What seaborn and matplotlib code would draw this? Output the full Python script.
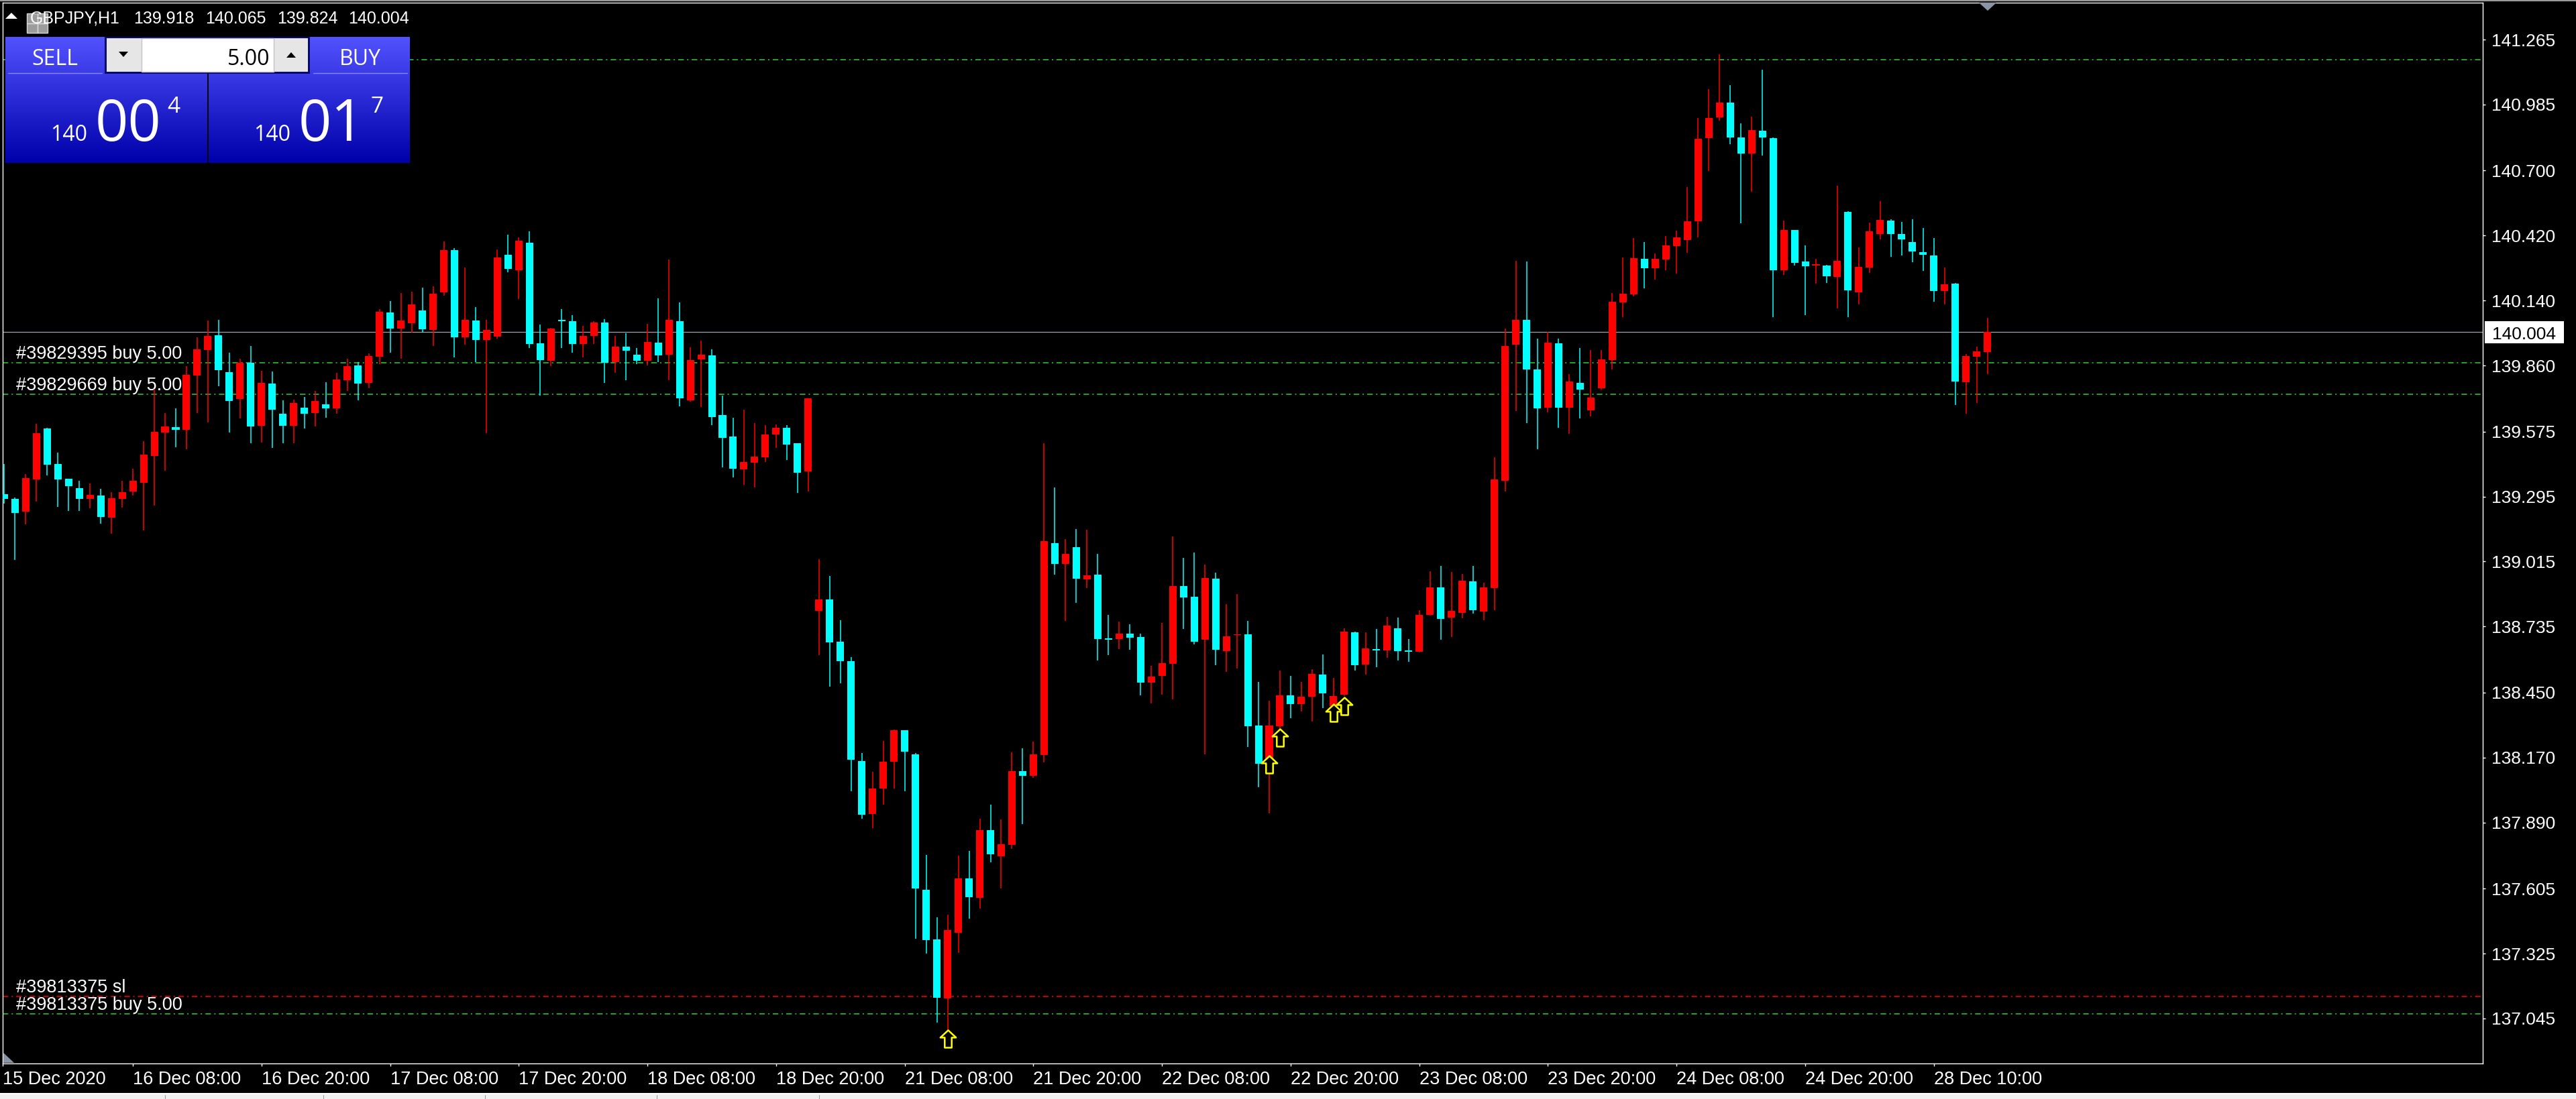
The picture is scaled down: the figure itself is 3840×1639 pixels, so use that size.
import numpy as np
import matplotlib
matplotlib.use("Agg")
import matplotlib.pyplot as plt
from matplotlib.path import Path
from matplotlib.patches import Rectangle, Polygon
import seaborn as sns

# GBPJPY H1 bars, 15 Dec 20:00 -> 28 Dec 15:00
opens = [
    139.304, 139.285, 139.230, 139.369, 139.588, 139.435, 139.371, 139.331, 139.284, 139.299,
    139.204, 139.284, 139.318, 139.354, 139.470, 139.572, 139.594, 139.583, 139.818, 139.927,
    139.990, 139.831, 139.715, 139.872, 139.601, 139.782, 139.652, 139.601, 139.678, 139.656,
    139.692, 139.675, 139.796, 139.860, 139.785, 139.898, 140.089, 140.020, 140.043, 140.098,
    140.014, 140.176, 140.358, 139.982, 140.054, 139.971, 139.985, 140.337, 140.272, 140.389,
    139.956, 139.879, 140.057, 140.051, 139.954, 139.988, 140.045, 139.875, 139.941, 139.906,
    139.879, 139.959, 139.906, 140.051, 139.710, 139.885, 139.903, 139.645, 139.553, 139.412,
    139.441, 139.465, 139.562, 139.591, 139.525, 139.403, 138.803, 138.851, 138.669, 138.586,
    138.155, 137.926, 138.035, 138.151, 138.288, 138.184, 137.600, 137.387, 137.130, 137.416,
    137.648, 137.564, 137.857, 137.744, 137.792, 138.111, 138.090, 138.182, 139.094, 139.004,
    139.077, 138.937, 138.959, 138.685, 138.682, 138.704, 138.690, 138.494, 138.521, 138.573,
    138.909, 138.863, 138.679, 138.941, 138.629, 138.698, 138.701, 138.308, 138.152, 138.306,
    138.439, 138.399, 138.432, 138.528, 138.391, 138.441, 138.710, 138.571, 138.638, 138.633,
    138.727, 138.632, 138.627, 138.785, 138.903, 138.774, 138.794, 138.930, 138.799, 138.901,
    139.362, 139.951, 140.056, 139.843, 139.677, 139.956, 139.677, 139.785, 139.667, 139.762,
    139.883, 140.132, 140.167, 140.320, 140.280, 140.316, 140.374, 140.401, 140.481, 140.839,
    140.929, 140.994, 140.842, 140.773, 140.872, 140.841, 140.270, 140.444, 140.308, 140.290,
    140.291, 140.242, 140.522, 140.175, 140.282, 140.427, 140.484, 140.426, 140.393, 140.348,
    140.334, 140.180, 140.213, 139.789, 139.898, 139.918,
]
highs = [
    139.436, 139.292, 139.392, 139.609, 139.590, 139.483, 139.373, 139.362, 139.350, 139.328,
    139.313, 139.362, 139.416, 139.533, 139.758, 139.656, 139.675, 139.856, 139.983, 140.055,
    140.057, 139.915, 139.890, 139.944, 139.837, 139.834, 139.709, 139.714, 139.724, 139.749,
    139.788, 139.827, 139.890, 139.876, 139.912, 140.103, 140.138, 140.171, 140.179, 140.195,
    140.201, 140.394, 140.365, 140.282, 140.113, 140.057, 140.360, 140.423, 140.412, 140.438,
    140.037, 140.022, 140.103, 140.076, 140.032, 140.052, 140.061, 139.988, 139.998, 139.934,
    140.039, 140.149, 140.316, 140.132, 139.939, 139.967, 139.929, 139.729, 139.636, 139.670,
    139.612, 139.602, 139.607, 139.604, 139.525, 139.718, 139.025, 138.953, 138.763, 138.603,
    138.189, 138.108, 138.241, 138.291, 138.288, 138.189, 137.751, 137.482, 137.493, 137.747,
    137.768, 137.907, 137.967, 137.903, 138.193, 138.210, 138.239, 139.525, 139.335, 139.111,
    139.156, 139.152, 139.047, 138.785, 138.756, 138.745, 138.704, 138.565, 138.751, 139.124,
    139.031, 139.054, 139.002, 138.968, 138.831, 138.875, 138.760, 138.496, 138.415, 138.545,
    138.522, 138.496, 138.550, 138.615, 138.513, 138.727, 138.713, 138.710, 138.724, 138.776,
    138.774, 138.681, 138.805, 138.974, 138.996, 138.970, 138.962, 138.996, 138.925, 139.464,
    140.019, 140.311, 140.308, 139.976, 140.006, 139.976, 139.822, 139.935, 139.926, 139.926,
    140.172, 140.326, 140.409, 140.393, 140.343, 140.418, 140.441, 140.628, 140.927, 141.052,
    141.201, 141.068, 140.904, 140.932, 141.135, 140.844, 140.484, 140.444, 140.378, 140.320,
    140.295, 140.635, 140.525, 140.369, 140.476, 140.569, 140.491, 140.479, 140.491, 140.454,
    140.409, 140.283, 140.217, 139.910, 139.941, 140.065,
]
lows = [
    139.264, 139.022, 139.175, 139.274, 139.387, 139.250, 139.232, 139.232, 139.245, 139.178,
    139.134, 139.248, 139.299, 139.150, 139.257, 139.406, 139.507, 139.499, 139.656, 139.615,
    139.771, 139.571, 139.631, 139.526, 139.529, 139.506, 139.526, 139.524, 139.587, 139.597,
    139.636, 139.651, 139.749, 139.709, 139.761, 139.866, 139.915, 139.890, 140.003, 140.003,
    139.944, 140.161, 139.895, 139.951, 139.876, 139.568, 139.976, 140.262, 140.147, 139.936,
    139.729, 139.856, 139.936, 139.915, 139.895, 139.954, 139.786, 139.827, 139.797, 139.866,
    139.861, 139.876, 139.797, 139.685, 139.705, 139.680, 139.602, 139.421, 139.377, 139.346,
    139.335, 139.445, 139.504, 139.453, 139.311, 139.318, 138.610, 138.475, 138.489, 138.026,
    137.905, 137.865, 137.966, 138.035, 138.026, 137.390, 137.325, 137.026, 136.960, 137.328,
    137.475, 137.519, 137.718, 137.605, 137.775, 137.884, 138.083, 138.148, 138.959, 138.759,
    138.837, 138.900, 138.587, 138.612, 138.638, 138.634, 138.439, 138.404, 138.441, 138.421,
    138.724, 138.657, 138.184, 138.568, 138.540, 138.555, 138.216, 138.043, 137.930, 138.290,
    138.341, 138.369, 138.324, 138.383, 138.347, 138.435, 138.545, 138.529, 138.560, 138.601,
    138.588, 138.583, 138.623, 138.782, 138.678, 138.690, 138.771, 138.792, 138.762, 138.805,
    139.316, 139.664, 139.611, 139.498, 139.657, 139.591, 139.564, 139.631, 139.641, 139.755,
    139.843, 140.068, 140.159, 140.192, 140.230, 140.270, 140.255, 140.345, 140.413, 140.698,
    140.914, 140.814, 140.472, 140.610, 140.764, 140.068, 140.250, 140.292, 140.078, 140.214,
    140.215, 140.106, 140.068, 140.124, 140.258, 140.404, 140.328, 140.333, 140.305, 140.267,
    140.134, 140.122, 139.691, 139.652, 139.697, 139.824,
]
closes = [
    139.284, 139.223, 139.374, 139.568, 139.433, 139.369, 139.340, 139.284, 139.302, 139.206,
    139.287, 139.313, 139.362, 139.475, 139.573, 139.597, 139.582, 139.820, 139.929, 139.988,
    139.839, 139.707, 139.872, 139.597, 139.785, 139.669, 139.601, 139.699, 139.653, 139.707,
    139.675, 139.800, 139.858, 139.782, 139.900, 140.092, 140.020, 140.055, 140.123, 140.017,
    140.169, 140.358, 139.982, 140.057, 139.971, 140.012, 140.326, 140.275, 140.398, 139.954,
    139.882, 140.019, 140.052, 139.954, 139.987, 140.045, 139.873, 139.941, 139.925, 139.879,
    139.961, 139.904, 140.057, 139.719, 139.884, 139.906, 139.638, 139.548, 139.415, 139.443,
    139.467, 139.562, 139.591, 139.520, 139.398, 139.718, 138.851, 138.666, 138.584, 138.160,
    137.922, 138.037, 138.153, 138.288, 138.194, 137.605, 137.382, 137.134, 137.427, 137.648,
    137.567, 137.857, 137.754, 137.796, 138.111, 138.090, 138.184, 139.103, 139.004, 139.049,
    138.940, 138.955, 138.682, 138.679, 138.704, 138.688, 138.494, 138.519, 138.577, 138.909,
    138.860, 138.668, 138.944, 138.634, 138.692, 138.700, 138.306, 138.144, 138.308, 138.439,
    138.399, 138.432, 138.530, 138.448, 138.435, 138.713, 138.568, 138.640, 138.633, 138.738,
    138.629, 138.627, 138.785, 138.903, 138.767, 138.803, 138.932, 138.804, 138.903, 139.369,
    139.945, 140.056, 139.842, 139.674, 139.958, 139.677, 139.790, 139.757, 139.721, 139.887,
    140.136, 140.169, 140.323, 140.280, 140.320, 140.378, 140.413, 140.482, 140.838, 140.927,
    140.994, 140.842, 140.773, 140.876, 140.843, 140.270, 140.444, 140.303, 140.288, 140.297,
    140.245, 140.311, 140.184, 140.285, 140.437, 140.487, 140.427, 140.404, 140.353, 140.336,
    140.180, 140.210, 139.792, 139.900, 139.921, 140.004,
]

# time axis labels (bar index where each label sits)
time_label_bars = [0, 12, 24, 36, 48, 60, 72, 84, 96, 108, 120, 132, 144, 156, 168, 180]
time_labels = ["15 Dec 2020", "16 Dec 08:00", "16 Dec 20:00", "17 Dec 08:00", "17 Dec 20:00",
               "18 Dec 08:00", "18 Dec 20:00", "21 Dec 08:00", "21 Dec 20:00", "22 Dec 08:00",
               "22 Dec 20:00", "23 Dec 08:00", "23 Dec 20:00", "24 Dec 08:00", "24 Dec 20:00",
               "28 Dec 10:00"]
price_ticks = [141.265, 140.985, 140.700, 140.420, 140.140, 139.860, 139.575, 139.295,
               139.015, 138.735, 138.450, 138.170, 137.890, 137.605, 137.325, 137.045]

# order lines
order_prices = [141.179, 139.871, 139.735, 137.140, 137.064]
order_colors = ["#32cd32", "#32cd32", "#32cd32", "#ff0000", "#32cd32"]
order_labels = ["", "#39829395 buy 5.00", "#39829669 buy 5.00", "#39813375 sl", "#39813375 buy 5.00"]

# buy arrows
arrow_bars = [88, 118, 119, 124, 125]
arrow_prices = [136.995, 138.179, 138.292, 138.399, 138.429]

symbol = "GBPJPY,H1"
last_ohlc = ["139.918", "140.065", "139.824", "140.004"]
bid = 140.004
lot = "5.00"
sell_parts = ("140", "00", "4")
buy_parts = ("140", "01", "7")

sns.set_style("dark", {"axes.facecolor": "black", "figure.facecolor": "black"})
plt.rcParams["font.family"] = ["Liberation Sans", "DejaVu Sans"]
plt.rcParams["lines.scale_dashes"] = False

W, H = 3840, 1639
fig = plt.figure(figsize=(W / 100, H / 100), dpi=100, facecolor="black")
ax = fig.add_axes([4 / W, 1 - 1586 / H, (3701 - 4) / W, (1586 - 4) / H])
ax.set_facecolor("black")
ax.grid(False)

# candles: red = up bar, aqua = down bar
x = np.arange(len(opens))
o = np.array(opens)
c = np.array(closes)
colors = np.where(c >= o, "#ff0000", "#00ffff")
body_bottom = np.minimum(o, c)
body_height = np.maximum(np.abs(c - o), 0.003)
ax.vlines(x, lows, highs, colors=colors, linewidth=1.1, zorder=4)
ax.bar(x, body_height, bottom=body_bottom, width=0.69, color=colors, linewidth=0, zorder=5)

# order lines and their labels
dashdot = (0, (6, 3.5, 1.5, 3.5))
for p, col, lab in zip(order_prices, order_colors, order_labels):
    ax.axhline(p, color=col, lw=1.1, linestyle=dashdot, zorder=1)
    if lab:
        ax.text(0.0054, p + 0.018, lab, transform=ax.get_yaxis_transform(), color="white",
                fontsize=19.5, ha="left", va="baseline", zorder=2)
ax.axhline(bid, color="#a3a3b0", lw=0.9, zorder=1)

# trade arrows
arrow = Path([(0, 0), (0.45, -0.42), (0.2, -0.42), (0.2, -1), (-0.2, -1), (-0.2, -0.42),
              (-0.45, -0.42), (0, 0)],
             [Path.MOVETO] + [Path.LINETO] * 6 + [Path.CLOSEPOLY])
sns.scatterplot(x=arrow_bars, y=arrow_prices, marker=arrow, s=1400, color="black",
                edgecolor="#ffff00", linewidth=1.8, ax=ax, zorder=6, legend=False)

ax.set_xlim(-0.144, 231.2)
ax.set_ylim(136.851, 141.424)
ax.yaxis.tick_right()
ax.set_yticks(price_ticks, [f"{v:.3f}" for v in price_ticks])
ax.tick_params(axis="y", colors="white", labelsize=19, length=3, width=1, pad=6,
               direction="out", left=False, right=True)
tick_pos = [-0.144] + time_label_bars[1:]
ax.set_xticks(tick_pos, time_labels)
ax.tick_params(axis="x", colors="white", labelsize=19.5, length=3, width=1, pad=5,
               direction="out", bottom=True)
for lbl in ax.get_xticklabels():
    lbl.set_ha("left")
ax.set_xlabel("")
ax.set_ylabel("")
for s in ax.spines.values():
    s.set_visible(True)
    s.set_color("white")
    s.set_linewidth(1.0)

# overlay in pixel coordinates for the terminal widgets
ov = fig.add_axes([0, 0, 1, 1], zorder=10)
ov.patch.set_alpha(0)
ov.axis("off")

# window borders
ov.add_patch(Rectangle((0, 0), W, 2, color="#9a9a9a", lw=0))
ov.add_patch(Rectangle((0, 1630), W, 2, color="#ffffff", lw=0))
ov.add_patch(Rectangle((0, 1632), W, 7, color="#f0f0f0", lw=0))
for sx in [246, 482, 723, 979, 1221]:
    ov.plot([sx, sx], [1633, 1639], color="#a0a0a0", lw=0.8)
ov.add_patch(Polygon([(5, 1570), (5, 1585), (21, 1585)], closed=True, color="#8a96a8", lw=0))
ov.add_patch(Polygon([(2950, 4), (2976, 4), (2963, 16)], closed=True, color="#8a96a8", lw=0))

# header line
ov.add_patch(Polygon([(8, 28), (26, 28), (17, 19)], closed=True, color="white", lw=0))
ov.text(45, 35, symbol, color="white", fontsize=18, va="baseline", ha="left")
for xs, val in zip([199, 306, 413, 519], last_ohlc):
    ov.text(xs, 35, val, color="white", fontsize=18, va="baseline", ha="left")
ov.add_patch(Rectangle((40, 20), 31, 29, facecolor="#9c9c9c", edgecolor="#d8d8d8", lw=1))
ov.plot([55.5, 55.5], [20, 49], color="#e0e0e0", lw=1)
ov.plot([40, 71], [34.5, 34.5], color="#e0e0e0", lw=1)

# one-click trading panel
t = np.linspace(0, 1, 256)[:, None]
top_c = np.array([82, 82, 255]) / 255
bot_c = np.array([0, 0, 170]) / 255
grad = (top_c * (1 - t) + bot_c * t)[:, None, :]
ov.imshow(grad, extent=(8, 611, 243, 55), aspect="auto", origin="upper", zorder=1)
ov.plot([12, 152], [109, 109], color="#8a8aff", lw=1, zorder=2)
ov.plot([467, 607], [109, 109], color="#8a8aff", lw=1, zorder=2)
ov.add_patch(Rectangle((308.5, 110), 2.5, 133, color="black", lw=0, zorder=2))
ov.add_patch(Rectangle((156, 55), 306, 55, color="#0a0a6e", lw=0, zorder=2))
ov.add_patch(Rectangle((159, 57), 300, 50, color="#e6e6e6", lw=0, zorder=3))
ov.add_patch(Rectangle((211, 57), 197, 50, facecolor="white", edgecolor="#c4c4c4", lw=1, zorder=4))
ov.add_patch(Polygon([(177, 77), (191, 77), (184, 85)], closed=True, color="black", lw=0, zorder=5))
ov.add_patch(Polygon([(427, 86), (441, 86), (434, 78)], closed=True, color="black", lw=0, zorder=5))
ov.text(402, 97, lot, color="black", fontsize=23, ha="right", va="baseline", zorder=6,
        family=["Open Sans", "DejaVu Sans"])
ov.text(82, 97, "SELL", color="white", fontsize=23, ha="center", va="baseline", zorder=6,
        family=["Open Sans", "DejaVu Sans"])
ov.text(537, 97, "BUY", color="white", fontsize=23, ha="center", va="baseline", zorder=6,
        family=["Open Sans", "DejaVu Sans"])
for (small_x, big_x, sup_x), parts in zip([(75, 142, 249), (378, 445, 553)], [sell_parts, buy_parts]):
    ov.text(small_x, 210, parts[0], color="white", fontsize=23, ha="left", va="baseline",
            zorder=6, family=["Open Sans", "DejaVu Sans"])
    ov.text(big_x, 210, parts[1], color="white", fontsize=62, ha="left", va="baseline",
            zorder=6, family=["Open Sans", "DejaVu Sans"])
    ov.text(sup_x, 168, parts[2], color="white", fontsize=24, ha="left", va="baseline",
            zorder=6, family=["Open Sans", "DejaVu Sans"])

# bid label on the price scale
ov.add_patch(Rectangle((3704, 479), 118, 33, color="white", lw=0, zorder=2))
ov.text(3715, 496, f"{bid:.3f}", color="black", fontsize=19, ha="left", va="center_baseline", zorder=3)

ov.set_xlim(0, W)
ov.set_ylim(H, 0)

fig.savefig("out.png", dpi=100, facecolor="black")
